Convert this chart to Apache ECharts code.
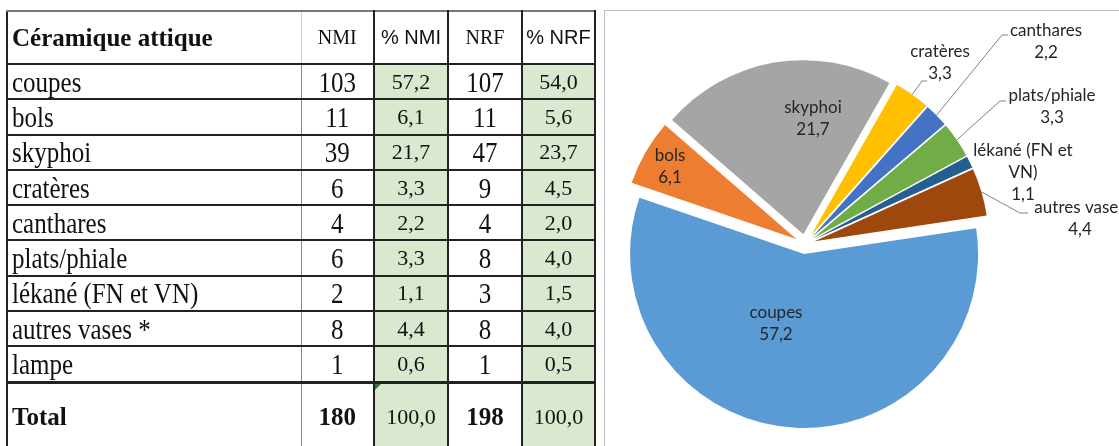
<!DOCTYPE html>
<html>
<head>
<meta charset="utf-8">
<script src="https://cdn.jsdelivr.net/npm/echarts@6/dist/echarts.min.js"></script>
<style>
html, body { margin: 0; padding: 0; background: #fff; width: 1119px; height: 446px; overflow: hidden; }
#frame { position: absolute; left: 604px; top: 10px; width: 620px; height: 500px; border: 1px solid #bdbdbd; box-sizing: border-box; }
#chart { position: absolute; left: 0; top: 0; width: 1119px; height: 446px; }
#tbl { position: absolute; left: 6px; top: 10px; border-collapse: collapse; table-layout: fixed; z-index: 2;
       font-family: 'Liberation Serif', 'DejaVu Serif', serif; color: #111; }
#tbl td { border: 2px solid #222; padding: 0; text-align: center; vertical-align: middle; white-space: nowrap; overflow: hidden; }
#tbl tr.head td { border-top-color: #777; height: 51px; }
#tbl tr.row td { height: 33.3px; }
#tbl tr.total td { height: 66px; border-top-width: 3px; }
#tbl td.lab { text-align: left; padding-left: 4px; font-size: 25px; border-right: 1px solid #888; }
#tbl tr.head td.lab { font-weight: bold; font-size: 25px; border-right: 1px solid #cfcfcf; }
#tbl tr.head td.n1 { border-left: 1px solid #cfcfcf; }
#tbl td.n1 { border-left: 1px solid #888; }
#tbl td.num { font-size: 25px; }
#tbl td.pct { background: #dae8cf; font-size: 22px; }
#tbl tr.head td.num { font-size: 20px; }
#tbl tr.head td.pct { background: #fff; font-family: 'Liberation Sans', Arial, sans-serif; font-size: 20px; }
#tbl tr.total td.lab, #tbl tr.total td.num { font-weight: bold; }
#tbl span.t { display: inline-block; transform: scaleY(1.2); }
#tbl td.flag { position: relative; }
#tbl td.flag::before { content: ''; position: absolute; left: 0; top: 0; border-top: 6px solid #2e7d32; border-right: 6px solid transparent; }
</style>
</head>
<body>
<div id="frame"></div>
<div id="chart"></div>
<table id="tbl">
  <colgroup><col style="width:294px"><col style="width:73px"><col style="width:74px"><col style="width:74px"><col style="width:73px"></colgroup>
  <tbody id="tbody"></tbody>
</table>
<script>
// données du tableau
var headers = ['Céramique attique', 'NMI', '% NMI', 'NRF', '% NRF'];
var categories = ['coupes', 'bols', 'skyphoi', 'cratères', 'canthares', 'plats/phiale', 'lékané (FN et VN)', 'autres vases *', 'lampe'];
var nmi = [103, 11, 39, 6, 4, 6, 2, 8, 1];
var pctNmi = [57.2, 6.1, 21.7, 3.3, 2.2, 3.3, 1.1, 4.4, 0.6];
var nrf = [107, 11, 47, 9, 4, 8, 3, 8, 1];
var pctNrf = [54.0, 5.6, 23.7, 4.5, 2.0, 4.0, 1.5, 4.0, 0.5];
var totals = ['Total', 180, 100.0, 198, 100.0];

// le camembert n'a pas la lampe
var pieColors = ['#5B9BD5', '#ED7D31', '#A5A5A5', '#FFC000', '#4472C4', '#70AD47', '#255E91', '#9E480E'];
var pieCenter = [805, 244];
var pieRadius = 174;
var explode = 10;

function fr(v) {
	return v.toFixed(1).replace('.', ',');
}

/**
 * construit le tableau
 */
function buildTable() {
	var html = '<tr class="head">' +
		'<td class="lab">' + headers[0] + '</td>' +
		'<td class="num n1">' + headers[1] + '</td>' +
		'<td class="pct">' + headers[2] + '</td>' +
		'<td class="num">' + headers[3] + '</td>' +
		'<td class="pct">' + headers[4] + '</td></tr>';
	for (var i = 0; i < categories.length; i++) {
		html += '<tr class="row">' +
			'<td class="lab"><span class="t">' + categories[i] + '</span></td>' +
			'<td class="num n1"><span class="t">' + nmi[i] + '</span></td>' +
			'<td class="pct">' + fr(pctNmi[i]) + '</td>' +
			'<td class="num"><span class="t">' + nrf[i] + '</span></td>' +
			'<td class="pct">' + fr(pctNrf[i]) + '</td></tr>';
	}
	html += '<tr class="total">' +
		'<td class="lab">' + totals[0] + '</td>' +
		'<td class="num n1">' + totals[1] + '</td>' +
		'<td class="pct flag">' + fr(totals[2]) + '</td>' +
		'<td class="num">' + totals[3] + '</td>' +
		'<td class="pct">' + fr(totals[4]) + '</td></tr>';
	document.getElementById('tbody').innerHTML = html;
}
buildTable();

// position des étiquettes (centre du bloc de texte) et fin des traits de rappel
var labelPos = {
	'coupes': [776, 324],
	'bols': [670, 167],
	'skyphoi': [813, 119],
	'cratères': [940, 63],
	'canthares': [1046, 42],
	'plats/phiale': [1052, 107],
	'lékané (FN et VN)': [1023, 173],
	'autres vases': [1080, 219]
};
var lineEnds = {
	'cratères': [[922, 81], [927, 81]],
	'canthares': [[1002, 35], [1008, 35]],
	'plats/phiale': [[1000, 101], [1006, 101]],
	'autres vases': [[1020, 213], [1028, 213]]
};
var insideLabels = ['coupes', 'bols', 'skyphoi'];

var sliceData = [];
var labelData = [];
for (var i = 0; i < categories.length; i++) {
	if (categories[i] == 'lampe') continue;
	var name = categories[i].replace(' *', '');
	var inside = insideLabels.indexOf(name) >= 0;
	sliceData.push({
		name: name,
		value: pctNmi[i],
		selected: true,
		itemStyle: { color: pieColors[sliceData.length] }
	});
	labelData.push({
		name: name,
		value: pctNmi[i],
		label: { position: inside ? 'inside' : 'outside' },
		labelLine: { show: !inside && name.indexOf('lékané') < 0 }
	});
}

var chart = echarts.init(document.getElementById('chart'));
chart.setOption({
	animation: false,
	series: [{
		// secteurs éclatés
		type: 'pie',
		center: pieCenter,
		radius: pieRadius,
		startAngle: 8.5,
		clockwise: true,
		selectedMode: 'multiple',
		selectedOffset: explode,
		emphasis: { disabled: true },
		select: { itemStyle: { borderWidth: 0 } },
		itemStyle: { borderWidth: 0 },
		label: { show: false },
		labelLine: { show: false },
		data: sliceData
	}, {
		// étiquettes seules
		type: 'pie',
		center: pieCenter,
		radius: pieRadius,
		startAngle: 8.5,
		clockwise: true,
		silent: true,
		avoidLabelOverlap: false,
		itemStyle: { color: 'rgba(0,0,0,0)', borderWidth: 0 },
		label: {
			fontFamily: 'Lato',
			fontSize: 17,
			lineHeight: 22,
			color: '#262626',
			align: 'center',
			formatter: function (p) {
				// coupure comme dans Excel
				return p.name.replace(' VN)', '\nVN)') + '\n' + fr(p.value);
			}
		},
		labelLine: {
			lineStyle: { color: '#808080', width: 1 }
		},
		labelLayout: function (p) {
			var name = labelData[p.dataIndex].name;
			var pos = labelPos[name];
			var out = { x: pos[0], y: pos[1], align: 'center', verticalAlign: 'middle' };
			var ends = lineEnds[name];
			if (ends && p.labelLinePoints) {
				var p0 = p.labelLinePoints[0];
				var vx = p0[0] - pieCenter[0], vy = p0[1] - pieCenter[1];
				var len = Math.sqrt(vx * vx + vy * vy);
				var start = [p0[0] + vx / len * explode, p0[1] + vy / len * explode];
				out.labelLinePoints = [start, ends[0], ends[1]];
			}
			return out;
		},
		data: labelData
	}]
});
</script>
</body>
</html>
